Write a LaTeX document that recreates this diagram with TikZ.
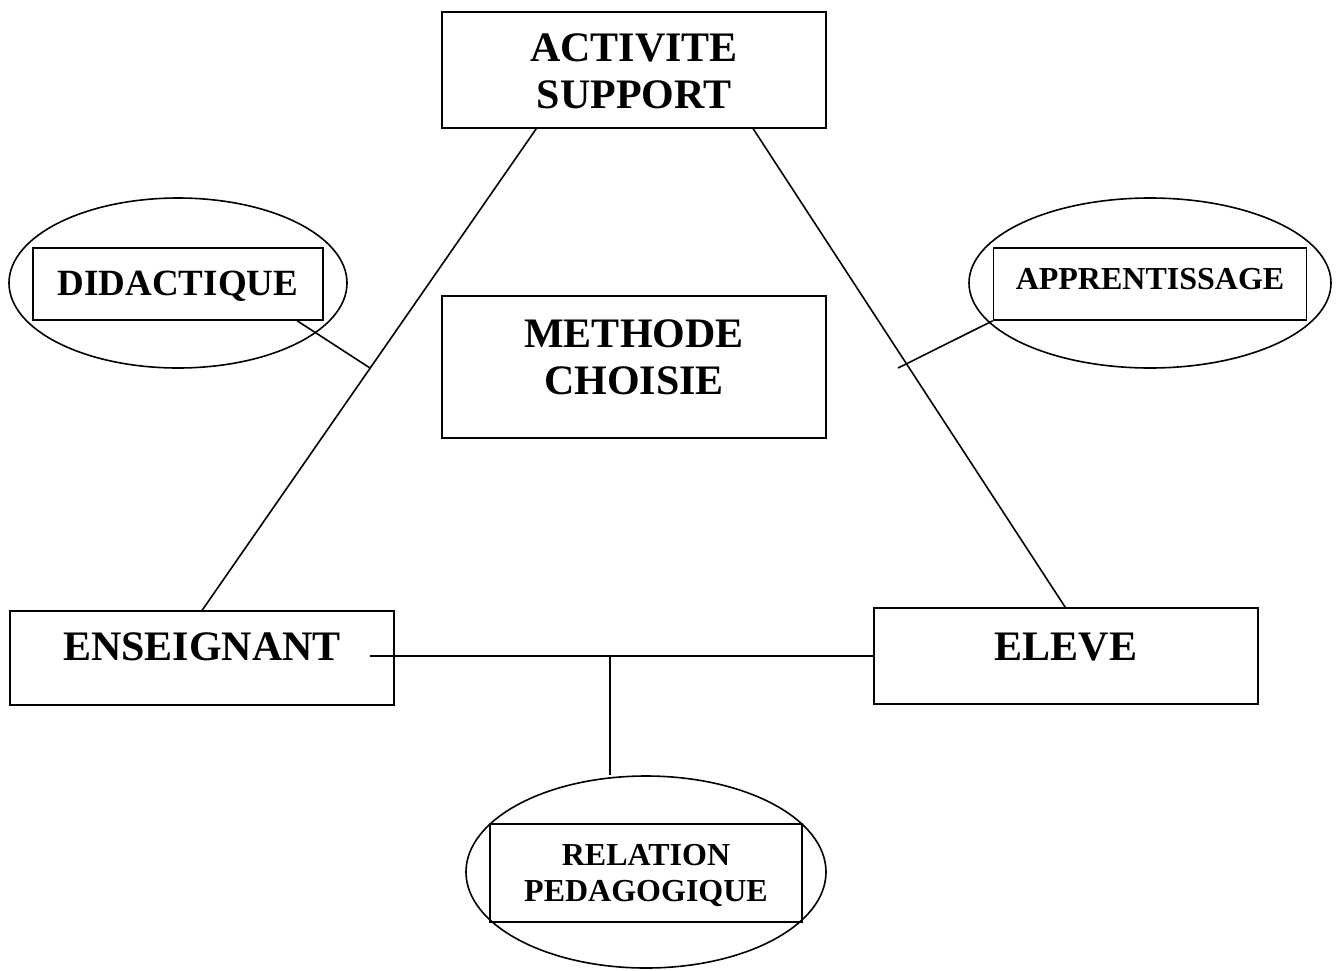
\documentclass[tikz,border=0pt]{standalone}
\usepackage{fontspec}
\setmainfont{Liberation Serif}
\usetikzlibrary{shapes.geometric,calc}
\newcommand{\twolines}[2]{\begin{tabular}[b]{@{}c@{}}#1\\#2\end{tabular}}
\begin{document}
\begin{tikzpicture}[x=1pt,y=-1pt,
  box/.style={draw,line width=1.6pt,rectangle,inner sep=0pt,text depth=0pt},
  big/.style={font=\fontsize{42}{46.5}\selectfont\bfseries},
  mid/.style={font=\fontsize{37}{42}\selectfont\bfseries},
  small/.style={font=\fontsize{32}{36}\selectfont\bfseries},
  oval/.style={draw,line width=1.6pt,ellipse,inner sep=0pt},
  link/.style={line width=1.6pt}]
\useasboundingbox (0,0) rectangle (1336,970);
% ovals (drawn first)
\node[oval,minimum width=338pt,minimum height=170pt] (ovd) at (178,283) {};
\node[oval,minimum width=362pt,minimum height=170pt] (ova) at (1150,283) {};
\node[oval,minimum width=360pt,minimum height=192pt] (ovr) at (646,872) {};
% main boxes
\node[box,big,minimum width=384pt,minimum height=116pt,text height=76pt] (act) at (634,70) {\twolines{ACTIVITE}{SUPPORT}};
\node[box,big,minimum width=384pt,minimum height=142pt,text height=54pt] (met) at (634,367) {\twolines{METHODE}{CHOISIE}};
\node[box,big,minimum width=384pt,minimum height=94pt,text height=4pt] (ens) at (202,658) {ENSEIGNANT};
\node[box,big,minimum width=384pt,minimum height=96pt,text height=8pt] (ele) at (1066,656) {ELEVE};
% inner boxes
\node[box,mid,minimum width=290pt,minimum height=72pt,text height=22pt] (did) at (178,284) {DIDACTIQUE};
\node[box,small,minimum width=313pt,minimum height=72pt,text height=10pt] (app) at (1150,284) {APPRENTISSAGE};
\node[box,small,minimum width=312pt,minimum height=98pt,text height=57pt] (rel) at (646,873) {\twolines{RELATION}{PEDAGOGIQUE}};
% connector points
\coordinate (lt) at ($(act.south west)+(95,0)$);
\coordinate (lb) at ($(ens.north west)+(193,0)$);
\coordinate (rt) at ($(act.south west)+(312,0)$);
\coordinate (rb) at ($(ele.north west)+(192,0)$);
\coordinate (dl) at (370,368);
\coordinate (al) at (898,368);
\coordinate (hl) at (370,656);
\coordinate (tj) at (610,656);
% connectors
\draw[link] (lt) -- (lb);
\draw[link] (rt) -- (rb);
\draw[link] ($(did.south west)+(265,0)$) -- (dl);
\draw[link] (app.south west) -- (al);
\draw[link] (hl) -- (ele.west);
\draw[link] (tj) -- (tj |- ovr.north);
\end{tikzpicture}
\end{document}
